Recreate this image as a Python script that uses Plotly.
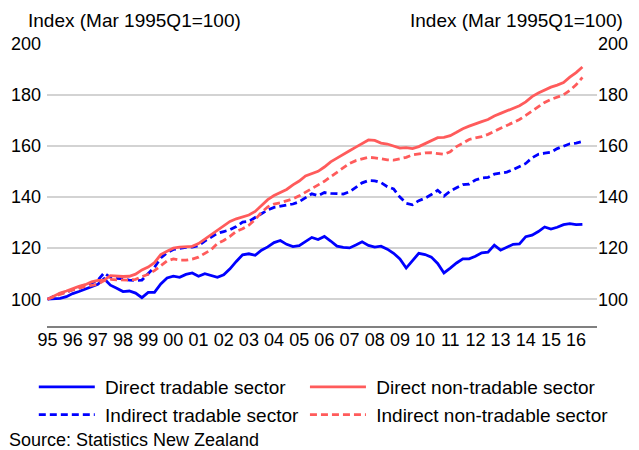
import plotly.graph_objects as go

start_year = 1995
quarters = [f"{start_year + i // 4}Q{i % 4 + 1}" for i in range(86)]

direct_tradable = [
    100, 100.1, 100.3, 101.0, 102.2, 103.0, 104.0, 105.0,
    105.8, 108.0, 105.5, 104.3, 103.0, 103.2, 102.4, 100.6,
    102.7, 102.7, 106.0, 108.3, 109.0, 108.6, 109.7, 110.3,
    109.0, 110.0, 109.3, 108.6, 109.6, 111.9, 114.8, 117.4,
    117.8, 117.2, 119.2, 120.5, 122.2, 123.0, 121.5, 120.6,
    121.0, 122.5, 124.2, 123.4, 124.6, 122.8, 120.8, 120.3,
    120.1, 121.2, 122.5, 121.1, 120.4, 120.8, 119.6, 118.0,
    115.8, 112.2, 115.0, 118.0, 117.5, 116.5, 114.0, 110.3,
    112.2, 114.2, 115.8, 115.8, 116.8, 118.2, 118.4, 121.2,
    119.2, 120.3, 121.5, 121.7, 124.5, 125.1, 126.5, 128.3,
    127.5, 128.2, 129.2, 129.6, 129.2, 129.3,
]

direct_nontradable = [
    100, 101.3, 102.4, 103.2, 104.2, 105.0, 105.7, 106.8,
    107.4, 107.5, 109.2, 109.0, 108.9, 109.0, 109.8, 111.5,
    112.6, 114.3, 117.5, 118.8, 120.0, 120.4, 120.6, 120.7,
    121.8, 123.5, 125.1, 127.1, 128.8, 130.5, 131.5, 132.2,
    133.0, 134.4, 136.8, 139.0, 140.6, 141.8, 143.0, 144.8,
    146.3, 148.3, 149.3, 150.1, 151.8, 153.8, 155.3, 156.6,
    158.2, 159.6, 161.0, 162.4, 162.2, 161.2, 160.8, 160.0,
    159.2, 159.4, 159.0, 159.8, 160.9, 162.2, 163.3, 163.4,
    164.1, 165.4, 166.8, 167.8, 168.8, 169.6, 170.4, 171.8,
    172.8, 173.9, 174.9, 175.8, 177.3, 179.4, 180.8, 182.1,
    183.1, 183.9, 184.9, 187.0, 188.8, 191.0,
]

indirect_tradable = [
    100, 101.0, 102.2, 102.8, 103.8, 104.6, 105.6, 106.3,
    107.5, 110.3, 108.5, 108.2, 108.0, 107.5, 107.3, 107.5,
    109.8, 112.5, 116.2, 118.2, 119.5, 120.0, 120.3, 120.4,
    121.0, 122.8, 124.2, 125.8, 126.5, 127.2, 128.5, 130.2,
    130.5, 132.0, 133.6, 135.0, 136.0, 136.5, 137.0, 137.3,
    138.2, 139.8, 141.3, 140.6, 141.8, 141.5, 141.3, 141.2,
    142.1, 143.8, 145.6, 146.5, 146.4, 145.7, 144.1, 143.2,
    140.0, 137.6, 137.0, 138.6, 139.6, 141.0, 142.7, 140.4,
    142.4, 143.7, 144.9, 145.1, 146.7, 147.5, 147.7, 149.0,
    149.5, 149.8, 150.8, 152.0, 153.2, 155.4, 156.8, 157.2,
    157.6, 159.0, 160.1, 160.9, 161.2, 161.8,
]

indirect_nontradable = [
    100, 101.0, 101.8, 102.8, 103.6, 104.4, 105.0, 105.4,
    105.8, 107.3, 107.8, 107.6, 107.6, 107.5, 107.8, 108.7,
    109.8, 111.2, 113.2, 115.0, 115.8, 115.3, 115.3, 115.7,
    116.5, 117.8, 119.4, 121.8, 123.0, 124.6, 126.6, 127.6,
    129.0, 131.2, 134.0, 136.2, 137.3, 137.8, 138.4, 139.3,
    140.5, 141.9, 143.2, 144.6, 146.2, 148.0, 149.7, 151.4,
    153.2, 154.3, 154.8, 155.6, 155.4, 154.9, 154.6, 154.5,
    155.0, 155.6, 156.6, 157.0, 157.3, 157.4, 157.2, 156.8,
    157.8, 159.8, 161.1, 162.6, 163.2, 163.7, 164.6, 165.9,
    167.0, 168.1, 169.3, 170.4, 172.0, 173.8, 175.6, 177.1,
    178.3, 179.3, 180.1, 181.8, 184.0, 186.9,
]

tick_years = list(range(1995, 2017))
tick_labels = [f"{y % 100:02d}" for y in tick_years]
y_ticks = [100, 120, 140, 160, 180, 200]

x = [int(q[:4]) + (int(q[-1]) - 1) / 4 for q in quarters]

BLUE = "#0000ff"
RED = "#ff5b5b"
FONT = "Liberation Sans, Arial, sans-serif"
DASH = "7px,4px"
NB = "\u00a0"

fig = go.Figure()
fig.add_trace(go.Scatter(x=x, y=direct_tradable, name=NB + "Direct tradable sector",
                         mode="lines", line=dict(color=BLUE, width=2.8), legend="legend"))
fig.add_trace(go.Scatter(x=x, y=indirect_tradable, name=NB + "Indirect tradable sector",
                         mode="lines", line=dict(color=BLUE, width=2.8, dash=DASH),
                         legend="legend"))
fig.add_trace(go.Scatter(x=x, y=direct_nontradable, name=NB + "Direct non-tradable sector",
                         mode="lines", line=dict(color=RED, width=2.8), legend="legend2"))
fig.add_trace(go.Scatter(x=x, y=indirect_nontradable, name=NB + "Indirect non-tradable sector",
                         mode="lines", line=dict(color=RED, width=2.8, dash=DASH),
                         legend="legend2"))
# invisible trace to drive right-hand axis
fig.add_trace(go.Scatter(x=[x[0]], y=[100], yaxis="y2", mode="lines",
                         showlegend=False, hoverinfo="skip", line=dict(width=0)))

yr = [89.5, 200]
legend_common = dict(orientation="v", y=-0.149, yanchor="top", itemwidth=56,
                     bgcolor="rgba(0,0,0,0)", font=dict(size=19), tracegroupgap=0,
                     xanchor="left", traceorder="normal")
fig.update_layout(
    width=639, height=450,
    margin=dict(l=47, r=42, t=44, b=124, autoexpand=False),
    paper_bgcolor="white", plot_bgcolor="white",
    font=dict(family=FONT, size=18, color="black"),
    xaxis=dict(range=[1994.98, 2016.83], tickvals=tick_years, ticktext=tick_labels,
               showgrid=False, zeroline=False, showline=True, linecolor="#808080",
               linewidth=2, ticks="", tickfont=dict(size=18), automargin=False,
               ticklabelstandoff=-4),
    yaxis=dict(range=yr, tickvals=y_ticks, showgrid=True, gridcolor="#d3d3d3",
               gridwidth=1.5, zeroline=False, showline=False, ticks="",
               ticklabelstandoff=5, tickfont=dict(size=18), automargin=False),
    yaxis2=dict(range=yr, tickvals=y_ticks, overlaying="y", side="right",
                showgrid=False, zeroline=False, showline=False, ticks="",
                ticklabelstandoff=0, tickfont=dict(size=18), automargin=False),
    showlegend=True,
    legend=dict(x=-0.024, **legend_common),
    legend2=dict(x=0.469, **legend_common),
    annotations=[
        dict(text="Index (Mar 1995Q1=100)", xref="paper", yref="paper",
             x=-0.038, y=1.085, xanchor="left", yanchor="middle", showarrow=False,
             font=dict(size=19)),
        dict(text="Index (Mar 1995Q1=100)", xref="paper", yref="paper",
             x=1.051, y=1.085, xanchor="right", yanchor="middle", showarrow=False,
             font=dict(size=19)),
        dict(text="Source: Statistics New Zealand", xref="paper", yref="paper",
             x=-0.0727, y=-0.405, xanchor="left", yanchor="middle", showarrow=False,
             font=dict(size=18)),
    ],
)

fig.write_html("out.html", config={"displayModeBar": False},
               post_script="document.body.style.margin='0';")
